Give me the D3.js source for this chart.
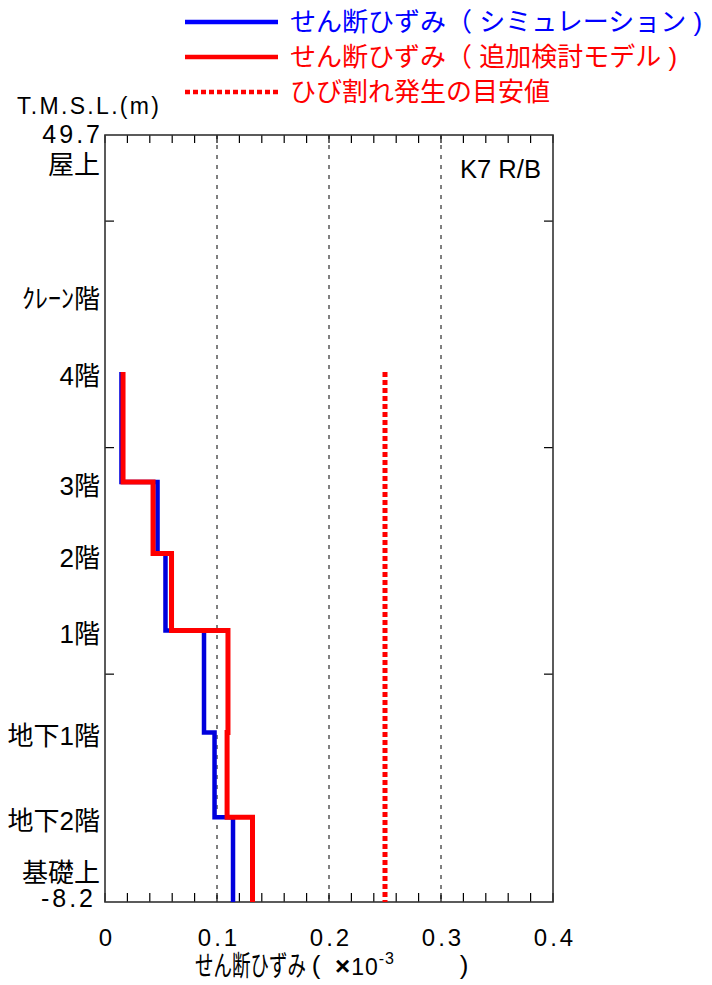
<!DOCTYPE html>
<html>
<head>
<meta charset="utf-8">
<script src="https://cdn.jsdelivr.net/npm/d3@7"></script>
<style>
  body { margin: 0; background: #fff; }
  svg text { font-family: "Liberation Sans", "Noto Sans CJK JP", sans-serif; }
</style>
</head>
<body>
<div id="chart"></div>
<script>
// floor names and T.M.S.L. levels (m)
const floors = ["屋上", "ｸﾚｰﾝ階", "4階", "3階", "2階", "1階", "地下1階", "地下2階", "基礎上"];
const floorLevels = [49.7, 37.6, 31.8, 23.5, 18.1, 12.3, 4.6, -1.8, -8.2];

// strain per story from 4階 down to 基礎上 (x10^-3)
const simStrain = [0.0147, 0.0469, 0.054, 0.0884, 0.0978, 0.1143];
const modelStrain = [0.0161, 0.0429, 0.0594, 0.1098, 0.109, 0.1317];
const crackLimit = 0.25;

const xTicks = [0, 0.1, 0.2, 0.3, 0.4];
const xMinorStep = 0.02;
const sideTicks = [43.2, 26.1, 9.0];

const legendItems = [
  { label: "せん断ひずみ（ シミュレーション )", color: "#0000ff", dash: null },
  { label: "せん断ひずみ（ 追加検討モデル )", color: "#ff0000", dash: null },
  { label: "ひび割れ発生の目安値", color: "#ff0000", dash: "5,3" }
];

const width = 712, height = 985;
const margin = { left: 105, right: 159, top: 135, bottom: 83 };

const svg = d3.select("#chart").append("svg")
  .attr("width", width)
  .attr("height", height);

const x = d3.scaleLinear().domain([0, 0.4]).range([margin.left, width - margin.right]);
const y = d3.scaleLinear().domain([-8.2, 49.7]).range([height - margin.bottom, margin.top]);

// dashed grid
svg.append("g")
  .selectAll("line")
  .data(xTicks.slice(1, -1))
  .join("line")
  .attr("x1", d => x(d)).attr("x2", d => x(d))
  .attr("y1", y(49.7)).attr("y2", y(-8.2))
  .attr("stroke", "#000")
  .attr("stroke-width", 1)
  .attr("stroke-dasharray", "4,6");

// minor ticks top and bottom
const minor = d3.range(0, 0.4001, xMinorStep);
svg.append("g").selectAll("line")
  .data(minor)
  .join("line")
  .attr("x1", d => x(d)).attr("x2", d => x(d))
  .attr("y1", y(49.7)).attr("y2", y(49.7) + 8)
  .attr("stroke", "#000").attr("stroke-width", 1.2);
svg.append("g").selectAll("line")
  .data(minor)
  .join("line")
  .attr("x1", d => x(d)).attr("x2", d => x(d))
  .attr("y1", y(-8.2)).attr("y2", y(-8.2) - 9)
  .attr("stroke", "#000").attr("stroke-width", 1.2);

// side ticks
svg.append("g").selectAll("line")
  .data(sideTicks)
  .join("line")
  .attr("x1", x(0)).attr("x2", x(0) + 9)
  .attr("y1", d => y(d)).attr("y2", d => y(d))
  .attr("stroke", "#000").attr("stroke-width", 1.2);
svg.append("g").selectAll("line")
  .data(sideTicks)
  .join("line")
  .attr("x1", x(0.4)).attr("x2", x(0.4) - 9)
  .attr("y1", d => y(d)).attr("y2", d => y(d))
  .attr("stroke", "#000").attr("stroke-width", 1.2);

// frame
svg.append("rect")
  .attr("x", x(0)).attr("y", y(49.7))
  .attr("width", x(0.4) - x(0)).attr("height", y(-8.2) - y(49.7))
  .attr("fill", "none")
  .attr("stroke", "#333")
  .attr("stroke-width", 1.6);

// step profiles
function stepPoints(values) {
  const pts = [];
  values.forEach((v, i) => {
    pts.push([v, floorLevels[i + 2]]);
    pts.push([v, floorLevels[i + 3]]);
  });
  return pts;
}
const line = d3.line().x(d => x(d[0])).y(d => y(d[1]));

svg.append("path")
  .attr("d", line(stepPoints(simStrain)))
  .attr("fill", "none")
  .attr("stroke", "#0000dd")
  .attr("stroke-width", 4.5);

svg.append("path")
  .attr("d", line(stepPoints(modelStrain)))
  .attr("fill", "none")
  .attr("stroke", "#ff0000")
  .attr("stroke-width", 5);

// crack limit
svg.append("line")
  .attr("x1", x(crackLimit)).attr("x2", x(crackLimit))
  .attr("y1", y(floorLevels[2])).attr("y2", y(-8.2))
  .attr("stroke", "#ff0000")
  .attr("stroke-width", 5)
  .attr("stroke-dasharray", "5,3");

// x tick labels
svg.append("g").selectAll("text")
  .data(xTicks)
  .join("text")
  .attr("x", d => x(d) + 2)
  .attr("y", 946)
  .attr("text-anchor", "middle")
  .attr("font-size", 24)
  .attr("letter-spacing", 3)
  .text(d => d === 0 ? "0" : d.toFixed(1));

// x title
svg.append("g")
  .attr("transform", "translate(195,976) scale(0.66,1)")
  .append("text")
  .attr("font-size", 28)
  .attr("font-family", "Noto Sans CJK JP")
  .text("せん断ひずみ");
svg.append("text")
  .attr("x", 316).attr("y", 974)
  .attr("text-anchor", "middle")
  .attr("font-size", 26)
  .attr("font-family", "Noto Sans CJK JP")
  .text("(");
const xt = svg.append("text")
  .attr("x", 335).attr("y", 975)
  .attr("font-size", 23)
  .attr("letter-spacing", 1);
xt.append("tspan").attr("font-size", 26).attr("font-weight", "bold").text("×");
xt.append("tspan").text("10");
xt.append("tspan").attr("font-size", 16).attr("dy", -11).text("-3");
svg.append("text")
  .attr("x", 464).attr("y", 974)
  .attr("text-anchor", "middle")
  .attr("font-size", 26)
  .attr("font-family", "Noto Sans CJK JP")
  .text(")");

// floor labels
svg.append("g").selectAll("text")
  .data(floors)
  .join("text")
  .attr("x", 100)
  .attr("y", (d, i) => i === 0 ? y(floorLevels[i]) + 30 : i === floors.length - 1 ? y(floorLevels[i]) - 29 : y(floorLevels[i]) + 4)
  .attr("dominant-baseline", "central")
  .attr("text-anchor", "end")
  .attr("font-size", 26)
  .text(d => d);

// elevation end labels
svg.append("text")
  .attr("x", 103).attr("y", y(49.7) - 1)
  .attr("dominant-baseline", "central")
  .attr("text-anchor", "end")
  .attr("font-size", 25)
  .attr("letter-spacing", 3)
  .text("49.7");
svg.append("text")
  .attr("x", 96).attr("y", y(-8.2) - 4)
  .attr("dominant-baseline", "central")
  .attr("text-anchor", "end")
  .attr("font-size", 25)
  .attr("letter-spacing", 3)
  .text("-8.2");

svg.append("text")
  .attr("x", 17).attr("y", 114)
  .attr("font-size", 23)
  .attr("textLength", 142).attr("lengthAdjust", "spacing")
  .text("T.M.S.L.(m)");

svg.append("text")
  .attr("x", 460).attr("y", 178)
  .attr("font-size", 26)
  .attr("textLength", 81).attr("lengthAdjust", "spacingAndGlyphs")
  .text("K7  R/B");

// legend
const leg = svg.append("g").selectAll("g")
  .data(legendItems)
  .join("g")
  .attr("transform", (d, i) => `translate(0,${22 + i * 35})`);
leg.append("line")
  .attr("x1", 185).attr("x2", 278)
  .attr("stroke", d => d.color)
  .attr("stroke-width", 4.5)
  .attr("stroke-dasharray", d => d.dash);
leg.append("text")
  .attr("x", 290).attr("y", 0)
  .attr("dominant-baseline", "central")
  .attr("font-size", 26)
  .attr("font-family", "Noto Sans CJK JP")
  .attr("fill", d => d.color)
  .text(d => d.label);
</script>
</body>
</html>
